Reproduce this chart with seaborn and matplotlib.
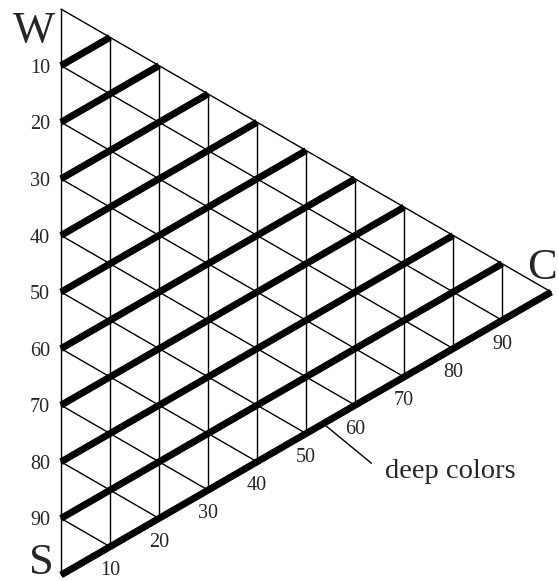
import numpy as np
import pandas as pd
import seaborn as sns
import matplotlib

matplotlib.use("Agg")
import matplotlib.pyplot as plt

# grid levels along each side of the triangle (percent)
levels = [10, 20, 30, 40, 50, 60, 70, 80, 90]
left_labels = ["10", "20", "30", "40", "50", "60", "70", "80", "90"]
bottom_labels = ["10", "20", "30", "40", "50", "60", "70", "80", "90"]
vertex_names = ["W", "S", "C"]
note_text = "deep colors"
note_c = 53.5  # where the leader line touches the S-C edge


def to_xy(w, c):
    """Map ternary shares (W, C; S is the rest) to plane coordinates."""
    return c * np.sqrt(3) / 2, w + c / 2


def segments():
    """All grid segments as a long table: seg id, x, y, thick flag."""
    rows = []
    seg = 0

    def add(p0, p1, thick):
        nonlocal seg
        for w, c in (p0, p1):
            x, y = to_xy(w, c)
            rows.append({"seg": seg, "x": x, "y": y, "thick": thick})
        seg += 1

    # outline
    add((0, 0), (100, 0), False)  # left edge S-W
    add((100, 0), (0, 100), False)  # top edge W-C
    add((0, 0), (0, 100), True)  # bottom edge S-C

    for k in levels:
        add((0, k), (100 - k, k), False)  # vertical lines, constant C
        add((100 - k, 0), (0, 100 - k), False)  # descending, constant S
        add((k, 0), (k, 100 - k), True)  # ascending thick, constant W

    return pd.DataFrame(rows)


sns.set_theme(style="white")
plt.rcParams["font.family"] = ["Liberation Serif", "DejaVu Serif"]

fig = plt.figure(figsize=(5.58, 5.81), dpi=100)
ax = fig.add_axes([0, 0, 1, 1])

df = segments()
thin = df[~df["thick"]]
thick = df[df["thick"]]

sns.lineplot(data=thin, x="x", y="y", units="seg", estimator=None, sort=False,
             color="black", linewidth=1.0, ax=ax, legend=False)
sns.lineplot(data=thick, x="x", y="y", units="seg", estimator=None, sort=False,
             color="black", linewidth=5.0, solid_capstyle="butt", ax=ax,
             legend=False)

# left side labels (counted from W down to S)
for k, lab in zip(levels, left_labels):
    x, y = to_xy(100 - k, 0)
    ax.text(x - 1.95, y - 1.25, lab, ha="right", va="baseline", fontsize=14.5)

# bottom labels under the S-C edge
for k, lab in zip(levels, bottom_labels):
    x, y = to_xy(0, k)
    ax.text(x, y - 5.0, lab, ha="center", va="baseline", fontsize=14.5)

# vertex letters
ax.text(-4.86, 94.2, vertex_names[0], ha="center", va="baseline", fontsize=32)
ax.text(-3.45, 0.1, vertex_names[1], ha="center", va="baseline", fontsize=32)
ax.text(82.4, 52.3, vertex_names[2], ha="left", va="baseline", fontsize=32)

# leader line and note
x0, y0 = to_xy(0, note_c)
ax.plot([x0, x0 + 8.5], [y0, y0 - 7.0], color="black", linewidth=1.0)
ax.text(57.2, 17.1, note_text, ha="left", va="baseline", fontsize=20.5)

ax.set_xlim(-10.78, 87.8)
ax.set_ylim(-1.06, 101.6)
ax.axis("off")

fig.savefig("out.png", dpi=100)
